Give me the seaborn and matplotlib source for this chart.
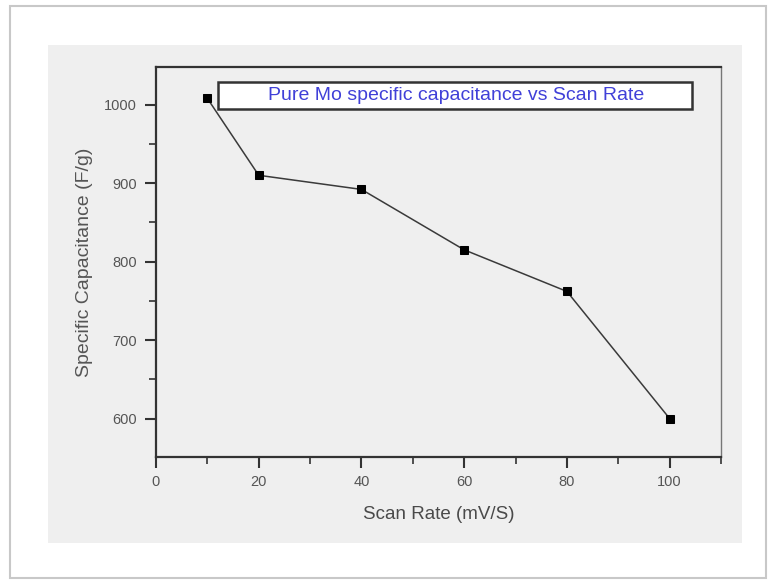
import matplotlib
matplotlib.use("Agg")
import matplotlib.pyplot as plt
from matplotlib.patches import Rectangle
from matplotlib.ticker import MultipleLocator
import seaborn as sns
import pandas as pd

scan_rate = [10, 20, 40, 60, 80, 100]
capacitance = [1008, 910, 892, 815, 762, 600]
x_ticks = [0, 20, 40, 60, 80, 100]
y_ticks = [600, 700, 800, 900, 1000]
title_text = "Pure Mo specific capacitance vs Scan Rate"
x_label = "Scan Rate (mV/S)"
y_label = "Specific Capacitance (F/g)"

df = pd.DataFrame({"rate": scan_rate, "cap": capacitance})

sns.set_style("ticks")
plt.rcParams['font.family'] = ['Liberation Sans', 'DejaVu Sans']

fig = plt.figure(figsize=(7.75, 5.83), dpi=100)
fig.patch.set_facecolor("white")
# outer border and inner panel
fig.patches.append(Rectangle((10/775, 1-578/583), 756/775, 572/583, transform=fig.transFigure,
                             facecolor="white", edgecolor="#c8c8c8", linewidth=1.5, zorder=-2))
fig.patches.append(Rectangle((48/775, 1-543/583), 694/775, 498/583, transform=fig.transFigure,
                             facecolor="#efefef", edgecolor="none", zorder=-1))

ax = fig.add_axes([156/775, 1-457/583, 565/775, 390/583])
ax.set_zorder(1)
ax.set_facecolor("#efefef")

sns.lineplot(data=df, x="rate", y="cap", ax=ax, color="#3a3a3a", linewidth=1.1,
             marker="s", markersize=6, markerfacecolor="black", markeredgecolor="black")

ax.set_xlim(0, 110)
ax.set_ylim(551, 1048)
ax.set_xticks(x_ticks)
ax.set_yticks(y_ticks)
ax.xaxis.set_minor_locator(MultipleLocator(10))
ax.yaxis.set_minor_locator(MultipleLocator(50))
ax.tick_params(axis="x", which="major", pad=5)
ax.tick_params(axis="y", which="major", pad=6)
ax.tick_params(which="major", direction="out", length=8, width=1.5, color="#333333",
               labelsize=10.5, labelcolor="#555555")
ax.tick_params(which="minor", direction="out", length=5, width=1.2, color="#333333")

for side in ["left", "bottom", "top"]:
    ax.spines[side].set_visible(True)
    ax.spines[side].set_color("#333333")
    ax.spines[side].set_linewidth(1.6)
ax.spines["right"].set_visible(True)
ax.spines["right"].set_color("#777777")
ax.spines["right"].set_linewidth(1.0)

ax.set_xlabel(x_label, fontsize=13.5, color="#4a4a4a", labelpad=12)
ax.set_ylabel(y_label, fontsize=14, color="#555555", labelpad=8)

ax.add_patch(Rectangle((0.1097, 0.892), 0.839, 0.0695, transform=ax.transAxes,
                       facecolor="white", edgecolor="#333333", linewidth=1.8, zorder=3))
ax.text(0.532, 0.927, title_text, transform=ax.transAxes, ha="center", va="center",
        fontsize=14, color="#4040d8", zorder=4)

fig.savefig("out.png", dpi=100, facecolor="white")
